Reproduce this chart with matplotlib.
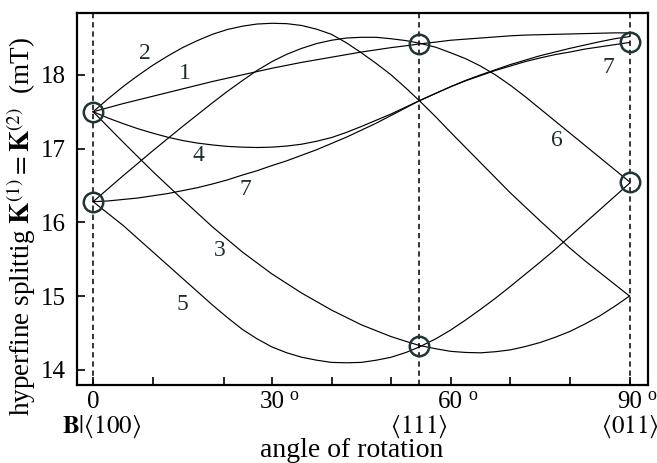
import matplotlib.pyplot as plt

plt.rcParams['font.family'] = ['Liberation Serif', 'DejaVu Serif']
plt.rcParams['mathtext.fontset'] = 'stix'

# data (angle in degrees, splitting in mT)
angles = [0, 2.5, 5, 7.5, 10, 12.5, 15, 17.5, 20, 22.5, 25, 27.5, 30, 32.5, 35, 37.5, 40, 42.5, 45,
          47.5, 50, 52.5, 54.74, 57.5, 60, 62.5, 65, 67.5, 70, 72.5, 75, 77.5, 80, 82.5, 85, 87.5, 90]
curve1 = [17.50, 17.555, 17.61, 17.66, 17.71, 17.76, 17.81, 17.86, 17.91, 17.955, 18.00, 18.045, 18.09,
          18.13, 18.17, 18.205, 18.24, 18.275, 18.31, 18.34, 18.37, 18.395, 18.42, 18.445, 18.47, 18.485,
          18.50, 18.515, 18.53, 18.54, 18.545, 18.55, 18.555, 18.56, 18.565, 18.57, 18.57]
curve2 = [17.50, 17.675, 17.84, 17.99, 18.13, 18.255, 18.37, 18.465, 18.55, 18.615, 18.66, 18.69, 18.70,
          18.695, 18.67, 18.62, 18.55, 18.435, 18.30, 18.155, 18.00, 17.82, 17.65, 17.43, 17.22, 17.015,
          16.81, 16.605, 16.40, 16.21, 16.02, 15.835, 15.65, 15.48, 15.32, 15.16, 15.00]
curve3 = [17.50, 17.295, 17.09, 16.89, 16.69, 16.50, 16.31, 16.125, 15.94, 15.77, 15.60, 15.45, 15.30,
          15.17, 15.04, 14.925, 14.81, 14.71, 14.61, 14.53, 14.45, 14.385, 14.33, 14.285, 14.25, 14.235,
          14.23, 14.245, 14.27, 14.315, 14.37, 14.44, 14.52, 14.62, 14.73, 14.86, 15.00]
curve4 = [17.50, 17.415, 17.34, 17.27, 17.21, 17.155, 17.11, 17.075, 17.05, 17.03, 17.02, 17.015, 17.02,
          17.035, 17.06, 17.10, 17.15, 17.22, 17.30, 17.385, 17.47, 17.565, 17.65, 17.75, 17.84, 17.925,
          18.00, 18.07, 18.14, 18.20, 18.26, 18.31, 18.36, 18.405, 18.45, 18.49, 18.52]
curve5 = [16.28, 16.12, 15.96, 15.78, 15.60, 15.42, 15.24, 15.06, 14.88, 14.71, 14.55, 14.42, 14.31,
          14.23, 14.17, 14.13, 14.10, 14.095, 14.10, 14.13, 14.17, 14.235, 14.31, 14.42, 14.54, 14.675,
          14.82, 14.97, 15.13, 15.295, 15.46, 15.63, 15.81, 15.99, 16.17, 16.35, 16.53]
curve6 = [16.28, 16.455, 16.63, 16.80, 16.97, 17.135, 17.30, 17.46, 17.62, 17.775, 17.92, 18.06, 18.18,
          18.28, 18.36, 18.425, 18.47, 18.50, 18.51, 18.51, 18.49, 18.465, 18.43, 18.375, 18.30, 18.22,
          18.12, 18.00, 17.86, 17.705, 17.54, 17.375, 17.21, 17.045, 16.88, 16.715, 16.55]
curve7 = [16.28, 16.29, 16.31, 16.33, 16.36, 16.39, 16.43, 16.47, 16.52, 16.575, 16.64, 16.70, 16.77,
          16.835, 16.91, 16.985, 17.07, 17.155, 17.25, 17.345, 17.45, 17.555, 17.65, 17.75, 17.84, 17.92,
          17.99, 18.06, 18.12, 18.18, 18.23, 18.275, 18.31, 18.35, 18.38, 18.41, 18.44]
curves = [curve1, curve2, curve3, curve4, curve5, curve6, curve7]

# measured points (circles)
circle_angles = [0, 0, 54.74, 54.74, 90, 90]
circle_vals = [17.49, 16.27, 18.42, 14.32, 18.44, 16.55]

# curve labels
label_text = ['2', '1', '4', '7', '3', '5', '6', '7']
label_x = [8.7, 15.4, 17.7, 25.5, 21.3, 15.0, 77.8, 86.5]
label_y = [18.29, 18.02, 16.91, 16.44, 15.62, 14.89, 17.11, 18.10]

# directions under the x axis
dir_labels = [r'$\mathbf{B}|\langle100\rangle$', r'$\langle111\rangle$', r'$\langle011\rangle$']
dir_x = [1.5, 54.6, 90]

fig = plt.figure(figsize=(6.57, 4.63), dpi=100)
ax = fig.add_axes([0.117, 0.1695, 0.869, 0.8025])

for x in [0, 54.74, 90]:
    ax.axvline(x, color='black', lw=1.1, dashes=(3.5, 2.5), zorder=1)

for c in curves:
    ax.plot(angles, c, color='black', lw=0.85, zorder=2)

ax.plot(circle_angles, circle_vals, 'o', ms=14, mfc='none', mec='#1f3434', mew=1.8, zorder=3)

for t, x, y in zip(label_text, label_x, label_y):
    ax.text(x, y, t, fontsize=17, ha='center', va='center', color='#1f2f2f')

ax.set_xlim(-2.73, 93.07)
ax.set_ylim(13.80, 18.84)

ax.set_xticks([0, 30, 60, 90])
ax.set_xticklabels(['0', '30', '60', '90'])
ax.set_xticks([10, 22, 40, 50, 70, 80], minor=True)
ax.set_yticks([14, 15, 16, 17, 18])
ax.tick_params(which='both', direction='in', length=6, width=1.2, labelsize=18)
ax.tick_params(axis='x', pad=5)
ax.tick_params(axis='y', pad=8)

for sp in ax.spines.values():
    sp.set_linewidth(1.6)

trans = ax.get_xaxis_transform()
for x in [30, 60, 90]:
    ax.text(x + 3.7, -0.03, 'o', fontsize=13, ha='center', va='center', transform=trans, clip_on=False)
for t, x in zip(dir_labels, dir_x):
    ax.text(x, -0.115, t, fontsize=18, ha='center', va='center', transform=trans, clip_on=False)

fig.text(0.535, 0.027, 'angle of rotation', fontsize=20, ha='center', va='center')
fig.text(0.032, 0.51, r'hyperfine splittig $\mathbf{K}^{(1)} = \mathbf{K}^{(2)}$  (mT)',
         fontsize=19.5, rotation=90, ha='center', va='center')

fig.savefig('out.png', dpi=100)
